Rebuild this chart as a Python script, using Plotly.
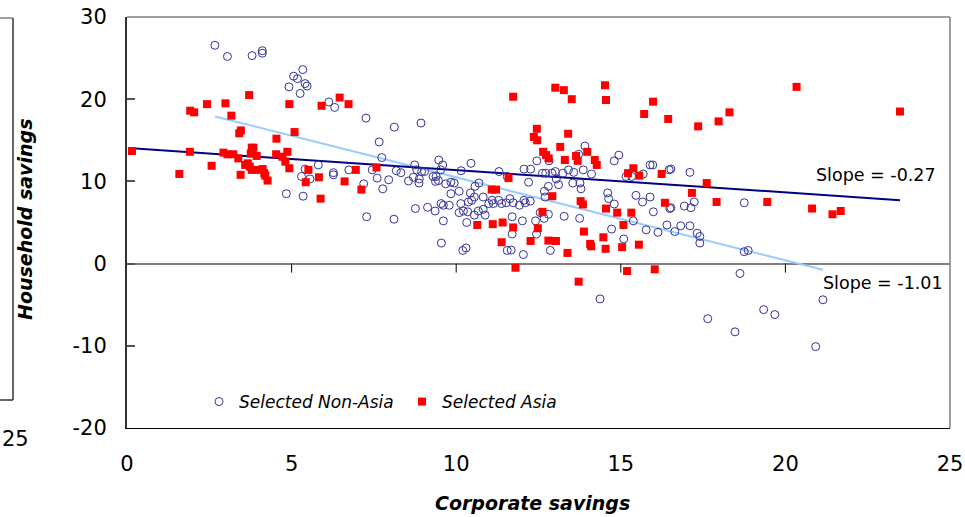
import plotly.graph_objects as go

# ---------------- data ----------------
nonasia_x = [2.67,3.05,3.80,4.11,4.11,5.34,5.06,5.18,5.41,5.47,4.92,5.26,6.13,6.31,7.26,8.12,7.66,7.74,8.18,5.81,
             5.41,5.30,5.56,6.27,6.27,6.74,7.45,7.60,7.95,7.19,7.77,4.84,5.35,7.28,8.11,
             8.93,8.32,8.55,8.70,8.74,8.80,8.88,8.87,8.95,9.04,9.30,9.39,9.47,9.59,9.53,9.37,9.46,9.68,9.84,9.94,
             9.84,10.09,10.15,10.45,10.43,10.57,10.69,10.55,10.82,11.30,11.55,11.63,12.06,12.26,12.20,12.45,12.62,
             12.72,12.82,12.91,13.01,13.04,12.80,12.68,12.70,13.11,13.24,13.41,13.57,13.54,13.76,13.79,13.72,13.91,
             13.86,14.11,14.60,14.94,14.80,15.16,15.33,15.46,15.68,15.89,15.97,15.89,16.47,
             8.76,9.13,9.36,9.54,9.61,9.79,9.61,9.55,10.14,10.09,10.22,10.35,10.37,10.47,10.32,10.20,10.30,10.55,
             10.67,10.82,10.88,10.99,11.09,11.13,11.29,11.38,11.52,11.73,11.92,12.06,12.10,12.25,11.70,12.01,11.70,
             11.55,11.67,12.04,12.41,12.44,12.55,12.67,12.80,12.86,13.28,13.75,14.63,14.80,15.66,14.72,15.09,15.38,
             15.99,15.77,16.13,16.40,16.49,14.37,
             16.52,17.10,16.52,16.93,17.13,17.23,18.75,16.64,16.82,17.10,17.32,17.40,17.40,18.75,18.87,18.62,17.64,
             18.47,19.34,19.68,20.92,21.14]
nonasia_y = [26.56,25.2,25.3,25.9,25.6,23.6,22.8,22.5,21.9,21.6,21.5,20.7,19.66,19.0,17.7,16.6,14.8,12.9,11.3,12.0,
             11.5,10.6,10.3,11.06,10.8,11.4,11.4,10.4,10.2,9.7,9.1,8.5,8.2,5.7,5.4,
             17.1,11.06,10.05,10.5,12.0,11.4,10.3,9.8,11.2,11.2,10.6,10.6,12.6,12.0,11.4,10.0,10.1,9.7,9.9,9.8,
             8.5,8.8,11.3,12.2,8.6,9.4,9.8,8.1,8.1,11.2,10.6,7.9,11.5,11.5,9.9,12.5,11.0,
             11.0,12.5,11.0,11.2,10.3,9.4,8.8,8.1,9.6,11.0,11.4,11.1,9.8,9.8,9.1,13.3,14.3,
             11.4,10.9,8.6,13.2,12.5,10.6,10.6,8.3,10.9,12.0,12.0,8.1,11.4,
             6.7,6.85,6.4,7.3,7.1,7.1,5.2,2.5,7.3,6.2,6.4,6.3,7.5,7.7,5.0,1.6,1.9,5.9,
             6.4,6.6,5.9,7.3,7.7,7.3,7.7,7.3,7.4,7.4,7.1,7.7,7.4,7.6,5.7,5.2,3.6,
             1.6,1.65,1.1,5.2,3.6,6.2,5.5,6.0,1.6,5.75,5.5,7.9,7.25,7.5,4.2,3.0,5.2,
             6.3,4.1,3.8,4.7,6.7,-4.3,
             11.5,11.1,6.8,7.0,6.8,7.5,7.4,3.9,4.6,4.6,3.7,3.3,2.5,1.45,1.6,-1.2,-6.7,
             -8.3,-5.6,-6.2,-10.1,-4.4]

asia_x = [0.15,1.59,1.92,2.04,2.43,1.91,2.57,2.99,3.17,3.71,3.41,3.46,2.93,3.05,3.23,3.38,3.79,3.84,3.76,3.94,
          3.67,3.59,3.73,3.79,3.96,4.12,4.17,4.20,4.27,3.45,4.54,4.53,4.72,4.87,4.81,4.93,4.93,5.09,5.51,5.43,
          5.83,5.91,6.46,6.73,6.61,6.95,7.12,5.88,7.58,
          11.73,13.01,13.27,13.51,14.52,14.55,15.98,15.71,16.44,12.45,12.36,12.46,13.40,13.16,12.64,12.73,12.81,
          13.30,13.64,13.69,13.98,14.21,14.27,15.22,15.38,15.56,16.24,11.59,11.08,11.21,12.92,13.78,13.85,
          12.62,10.64,11.11,11.41,11.73,12.48,11.38,12.26,12.80,13.03,13.38,11.80,13.72,13.88,14.07,14.10,14.47,
          14.54,14.55,14.89,15.08,15.04,15.32,15.55,15.19,16.03,16.34,
          17.35,17.97,18.30,20.34,23.48,17.61,17.16,17.91,19.45,20.81,21.43,21.68]
asia_y = [13.7,10.9,18.6,18.4,19.4,13.6,11.9,19.5,18.0,20.5,15.85,16.2,13.5,13.3,13.3,12.8,14.1,14.1,13.4,13.1,
          12.2,12.0,11.8,11.4,11.4,11.5,11.0,10.7,10.1,10.8,15.2,13.3,13.0,13.6,12.4,11.6,19.4,16.0,11.4,9.9,
          10.5,19.2,20.2,19.4,10.0,11.4,9.0,7.9,11.7,
          20.3,21.4,21.1,20.0,21.7,19.9,19.7,18.2,17.6,16.4,15.4,15.0,15.8,14.2,13.6,13.2,12.8,
          12.6,13.1,12.5,13.6,12.6,12.0,11.0,11.6,10.7,10.9,10.4,9.0,9.0,8.2,7.6,7.2,
          6.3,4.7,4.8,5.0,4.4,4.3,2.6,2.75,2.8,2.75,1.3,-0.5,-2.2,3.9,2.4,2.1,3.2,
          1.8,6.7,6.2,4.7,2.0,6.2,2.3,-0.9,-0.7,7.4,
          16.7,17.3,18.4,21.5,18.5,9.8,8.6,7.5,7.5,6.7,6.0,6.4]

# trend lines (slope/intercept as shown)
asia_slope, asia_intercept = -0.27, 14.06
nonasia_slope, nonasia_intercept = -1.01, 20.6

x_ticks = [0, 5, 10, 15, 20, 25]
y_ticks = [-20, -10, 0, 10, 20, 30]

# ---------------- figure ----------------
W, H = 965, 517
L, R, T, B = 127, 15, 17, 89
pw, ph = W - L - R, H - T - B

def px_x(p):
    return (p - L) / pw

def px_y(p):
    return (H - B - p) / ph

FONT = "DejaVu Sans"
fig = go.Figure()

ax0, ax1 = min(asia_x), max(asia_x)
nx0, nx1 = min(nonasia_x), max(nonasia_x)
fig.add_trace(go.Scatter(x=[nx0, nx1], y=[nonasia_intercept + nonasia_slope * nx0, nonasia_intercept + nonasia_slope * nx1],
                         mode="lines", line=dict(color="#99CCFF", width=2), showlegend=False, hoverinfo="skip"))
fig.add_trace(go.Scatter(x=[ax0, ax1], y=[asia_intercept + asia_slope * ax0, asia_intercept + asia_slope * ax1],
                         mode="lines", line=dict(color="#000080", width=2), showlegend=False, hoverinfo="skip"))

fig.add_trace(go.Scatter(x=nonasia_x, y=nonasia_y, mode="markers", name="Selected Non-Asia",
                         marker=dict(symbol="circle-open", size=8, color="#333399", line=dict(width=1, color="#333399"))))
fig.add_trace(go.Scatter(x=asia_x, y=asia_y, mode="markers", name="Selected Asia",
                         marker=dict(symbol="square", size=8, color="#FF0000", line=dict(width=0))))

shapes = []
# plot frame (top and right edges)
shapes.append(dict(type="line", xref="paper", yref="paper", x0=0, x1=1, y0=1, y1=1,
                   line=dict(color="#808080", width=1.5)))
shapes.append(dict(type="line", xref="paper", yref="paper", x0=1, x1=1, y0=0, y1=1,
                   line=dict(color="#808080", width=1.5)))
# ticks on the zero line
for t in x_ticks[1:-1]:
    shapes.append(dict(type="line", xref="x", yref="y", x0=t, x1=t, ysizemode="pixel", yanchor=0,
                       y0=0, y1=-9, line=dict(color="#000000", width=1)))
# fragment of neighbouring chart frame at far left
shapes.append(dict(type="line", xref="paper", yref="paper", x0=px_x(13), x1=px_x(13), y0=px_y(18), y1=px_y(400),
                   line=dict(color="#333333", width=1.5)))
shapes.append(dict(type="line", xref="paper", yref="paper", x0=px_x(-2), x1=px_x(13), y0=px_y(18), y1=px_y(18),
                   line=dict(color="#808080", width=1.5)))
shapes.append(dict(type="line", xref="paper", yref="paper", x0=px_x(-2), x1=px_x(13), y0=px_y(400), y1=px_y(400),
                   line=dict(color="#333333", width=1.5)))

annotations = [
    dict(text="<b><i>Household savings</i></b>", xref="paper", yref="paper", x=px_x(25), y=px_y(220),
         textangle=-90, showarrow=False, font=dict(family=FONT, size=19, color="#000000"),
         xanchor="center", yanchor="middle"),
    dict(text="<b><i>Corporate savings</i></b>", xref="paper", yref="paper", x=px_x(532), y=px_y(503),
         showarrow=False, font=dict(family=FONT, size=19, color="#000000"), xanchor="center", yanchor="middle"),
    dict(text="Slope = -0.27", xref="paper", yref="paper", x=px_x(814), y=px_y(175), showarrow=False,
         font=dict(family=FONT, size=17.5, color="#000000"), xanchor="left", yanchor="middle"),
    dict(text="Slope = -1.01", xref="paper", yref="paper", x=px_x(821), y=px_y(283), showarrow=False,
         font=dict(family=FONT, size=17.5, color="#000000"), xanchor="left", yanchor="middle"),
    dict(text="25", xref="paper", yref="paper", x=px_x(0), y=px_y(439), showarrow=False,
         font=dict(family=FONT, size=21, color="#000000"), xanchor="left", yanchor="middle"),
]

fig.update_layout(
    width=W, height=H,
    margin=dict(l=L, r=R, t=T, b=B, pad=0, autoexpand=False),
    paper_bgcolor="white", plot_bgcolor="white",
    font=dict(family=FONT, size=21, color="#000000"),
    shapes=shapes, annotations=annotations,
    legend=dict(orientation="h", x=px_x(199), y=px_y(384), xanchor="left", yanchor="top",
                font=dict(family=FONT, size=17, style="italic", color="#000000"),
                bgcolor="rgba(0,0,0,0)", entrywidth=158, entrywidthmode="pixels", itemwidth=30),
    xaxis=dict(range=[0, 25], tickvals=x_ticks, ticktext=[str(v) for v in x_ticks], showgrid=False,
               zeroline=False, showline=True, linecolor="#000000", linewidth=1, automargin=False,
               ticks="outside", ticklen=17, tickcolor="rgba(0,0,0,0)",
               tickfont=dict(family=FONT, size=21, color="#000000")),
    yaxis=dict(range=[-20, 30], tickvals=y_ticks, ticktext=[str(v) for v in y_ticks], showgrid=False,
               zeroline=True, zerolinecolor="#808080", zerolinewidth=1.5, automargin=False,
               showline=True, linecolor="#333333", linewidth=2,
               ticks="inside", ticklen=8, tickcolor="#555555", tickwidth=1.5, ticklabelstandoff=14,
               tickfont=dict(family=FONT, size=21, color="#000000")),
)

fig.write_html("out.html")
